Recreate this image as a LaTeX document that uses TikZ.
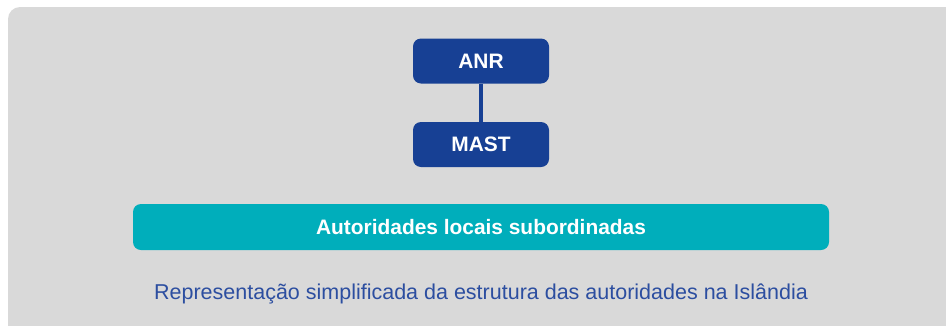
\documentclass[tikz,border=0pt]{standalone}
\usepackage{fontspec}
\setmainfont{Liberation Sans}
\definecolor{panelgray}{RGB}{217,217,217}
\definecolor{orgblue}{RGB}{23,64,148}
\definecolor{orgteal}{RGB}{0,174,187}
\definecolor{capblue}{RGB}{44,78,160}
\begin{document}
\begin{tikzpicture}[x=1pt,y=-1pt,
    orgbox/.style={fill=orgblue,rounded corners=8pt,minimum width=136pt,minimum height=45pt,
        text=white,font=\fontsize{20.9}{25}\selectfont\bfseries,inner sep=0pt},
    localbox/.style={fill=orgteal,rounded corners=8pt,minimum width=696pt,minimum height=46pt,
        text=white,font=\fontsize{20.9}{25}\selectfont\bfseries,inner sep=0pt}]
                \useasboundingbox (0,0) rectangle (946,325);
                \clip (0,0) rectangle (946,325);
                \fill[panelgray,rounded corners=12pt] (8,7) rectangle (970,345);

                \node[orgbox] (anr) at (481,61) {ANR};
                \node[orgbox] (mast) at (481,144.5) {MAST};
                \draw[orgblue,line width=3.2pt] (anr) -- (mast);

                \node[localbox] (local) at (481,227) {Autoridades locais subordinadas};
                % legenda
                \node[text=capblue,font=\fontsize{21.5}{26}\selectfont] (caption) at (481,294)
                    {Representação simplificada da estrutura das autoridades na Islândia};
            \end{tikzpicture}
\end{document}
